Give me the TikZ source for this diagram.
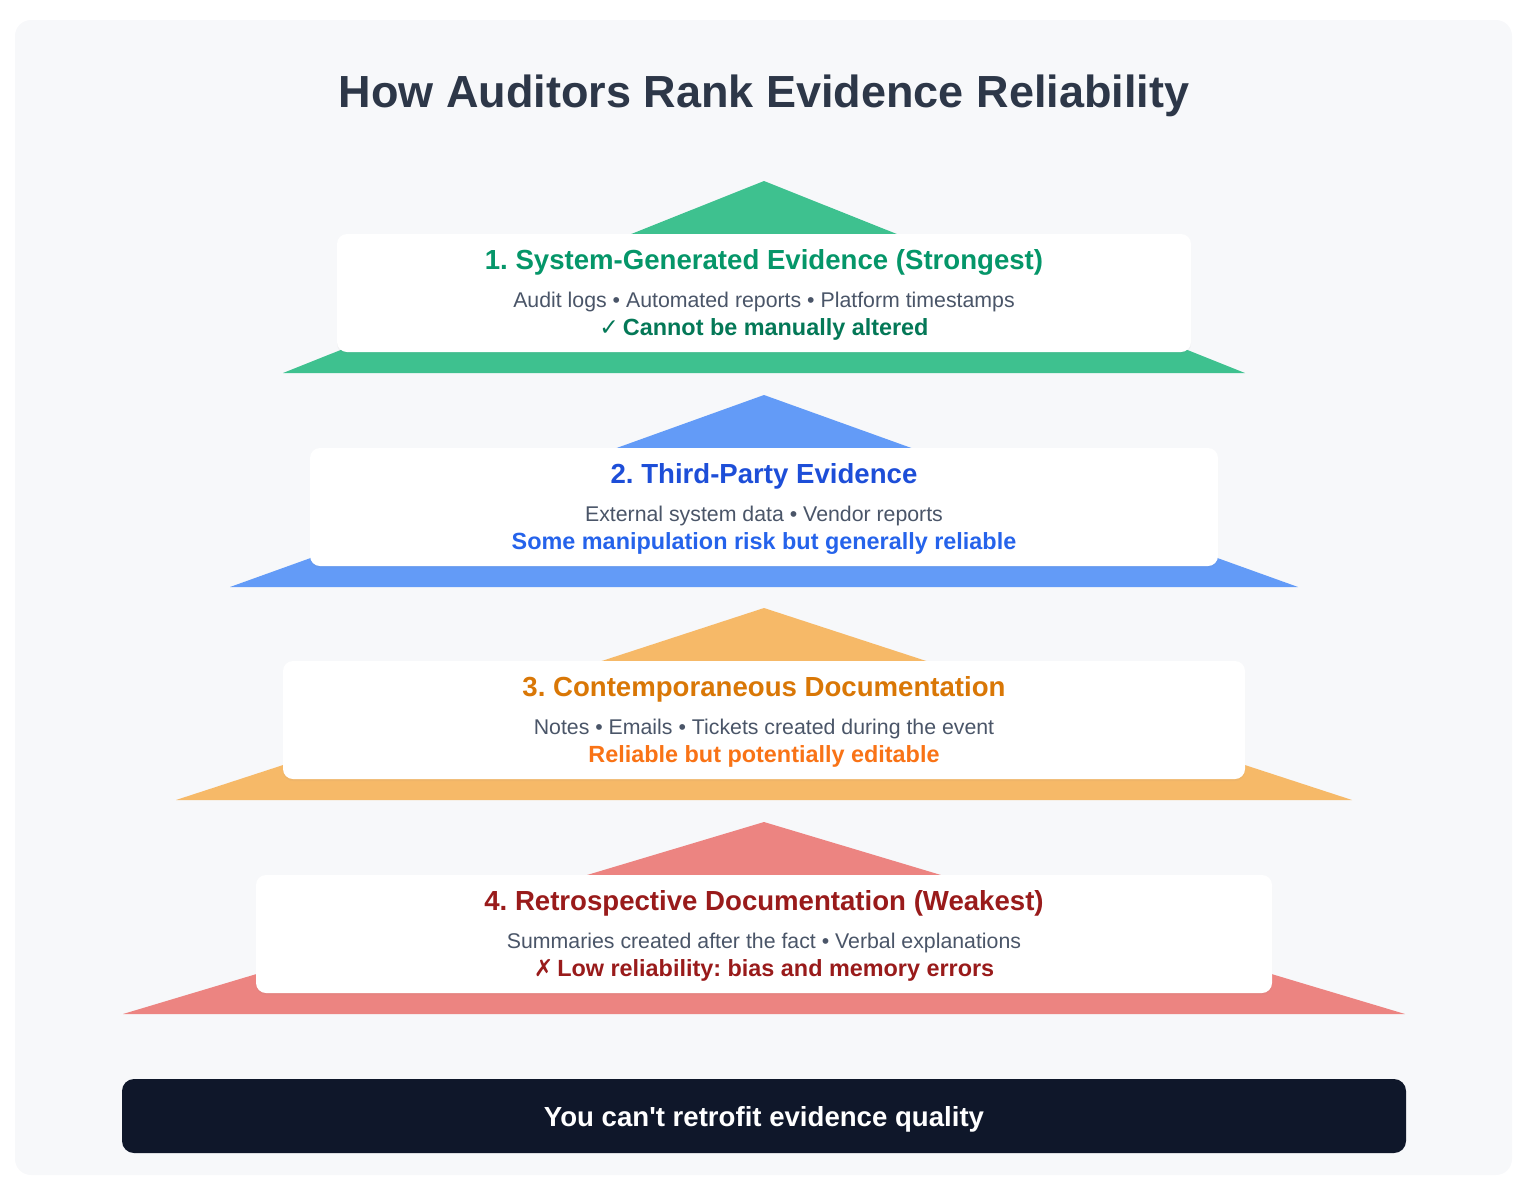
\documentclass[tikz,border=0pt]{standalone}
\usepackage{fontspec}
\newfontfamily\uifont{Liberation Sans}
\newfontfamily\symfont{DejaVu Sans}
\usetikzlibrary{calc,shadows}
\definecolor{pagebg}{HTML}{F7F8FA}
\definecolor{titlecol}{HTML}{2D3748}
\definecolor{subcol}{HTML}{4A5568}
\definecolor{darkbar}{HTML}{0F172A}
\definecolor{triA}{HTML}{3EC18F}
\definecolor{headA}{HTML}{059669}
\definecolor{noteA}{HTML}{047857}
\definecolor{triB}{HTML}{639BF7}
\definecolor{headB}{HTML}{1D4ED8}
\definecolor{noteB}{HTML}{2563EB}
\definecolor{triC}{HTML}{F6B968}
\definecolor{headC}{HTML}{D97706}
\definecolor{noteC}{HTML}{F97316}
\definecolor{triD}{HTML}{EC8481}
\definecolor{headD}{HTML}{991B1B}
\definecolor{noteD}{HTML}{991B1B}
\tikzset{
  card/.style = {fill=white, rounded corners=10, inner sep=0pt,
    drop shadow={opacity=0.06, shadow xshift=0pt, shadow yshift=-2pt}},
  headtxt/.style = {font=\uifont\bfseries\fontsize{27.6}{32}\selectfont, inner sep=0pt, anchor=base},
  subtxt/.style = {font=\uifont\fontsize{21.3}{25}\selectfont, text=subcol, inner sep=0pt, anchor=base},
  notetxt/.style = {font=\uifont\bfseries\fontsize{23.4}{28}\selectfont, inner sep=0pt, anchor=base}
}
\frenchspacing

\begin{document}
\begin{tikzpicture}[x=1pt,y=-1pt]
  \useasboundingbox (0,0) rectangle (1528,1192);
  % panel
  \fill[pagebg, rounded corners=16] (15,20) rectangle (1512,1175);
  \node[font=\uifont\bfseries\fontsize{45}{54}\selectfont, text=titlecol, anchor=base, inner sep=0pt] (title) at (764,107) {How Auditors Rank Evidence Reliability};
  % tiers
  \foreach \i/\ya/\hb/\hc/\tri/\head/\acc/\ttl/\sub/\note in {
    1/181/481/427/triA/headA/noteA/{1. System-Generated Evidence (Strongest)}/{Audit logs • Automated reports • Platform timestamps}/{{\symfont ✓}\,Cannot be manually altered},
    2/395/534/454/triB/headB/noteB/{2. Third-Party Evidence}/{External system data • Vendor reports}/{Some manipulation risk but generally reliable},
    3/608/588/481/triC/headC/noteC/{3. Contemporaneous Documentation}/{Notes • Emails • Tickets created during the event}/{Reliable but potentially editable},
    4/822/641/508/triD/headD/noteD/{4. Retrospective Documentation (Weakest)}/{Summaries created after the fact • Verbal explanations}/{{\symfont ✗}\,Low reliability: bias and memory errors}}
  {
    \coordinate (apex\i) at (764,\ya);
    \fill[\tri] (apex\i) -- ($(apex\i)+(\hb,192)$) -- ($(apex\i)+(-\hb,192)$) -- cycle;
    \node[card, minimum width=2*\hc, minimum height=118] (card\i) at ($(apex\i)+(0,112)$) {};
    \node[headtxt, text=\head] (head\i) at ($(card\i.north)+(0,36)$) {\ttl};
    \node[subtxt] (sub\i) at ($(card\i.north)+(0,74)$) {\sub};
    \node[notetxt, text=\acc] (note\i) at ($(card\i.north)+(0,102)$) {\note};
  }
  % bottom line
  \node[fill=darkbar, rounded corners=12, minimum width=1284, minimum height=74] (bottom) at (764,1116) {};
  \node[text=white, font=\uifont\bfseries\fontsize{27.6}{32}\selectfont, anchor=base, inner sep=0pt] (bottomtxt) at ($(bottom.north)+(0,48)$) {You can't retrofit evidence quality};
\end{tikzpicture}
\end{document}
